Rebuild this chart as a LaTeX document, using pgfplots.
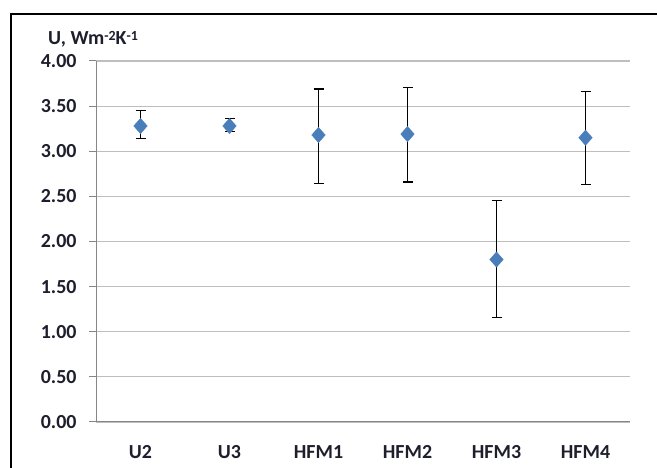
\documentclass[border=0pt]{standalone}
\usepackage{pgfplots}
\pgfplotsset{compat=1.18}
\usepackage{fontspec}
\setmainfont{Carlito}
\definecolor{mk}{RGB}{74,126,187}
\definecolor{gridc}{RGB}{190,190,190}
\definecolor{axc}{RGB}{134,134,134}
\definecolor{txt}{RGB}{30,30,45}
\begin{document}
\begin{tikzpicture}[x=1bp,y=1bp]
\path[use as bounding box] (-96,-46) rectangle (561,422);
\begin{axis}[
  at={(0,0)}, anchor=south west,
  scale only axis, width=534bp, height=361bp,
  xmin=-0.5, xmax=5.5, ymin=0, ymax=4,
  ytick={0,0.5,...,4},
  yticklabel style={/pgf/number format/fixed,/pgf/number format/fixed zerofill,/pgf/number format/precision=2, font=\bfseries\fontsize{20}{22}\selectfont, text=txt, xshift=-9bp},
  /pgf/number format/assume math mode=true,
  xtick={0,...,5},
  xticklabels={U2,U3,HFM1,HFM2,HFM3,HFM4},
  xticklabel style={font=\bfseries\fontsize{20}{22}\selectfont, text=txt, yshift=-13bp},
  extra x ticks={-0.5,0.5,1.5,2.5,3.5,4.5,5.5},
  extra x tick labels={},
  extra x tick style={major tick length=7bp, tick style={axc, line width=1bp}, xtick pos=bottom, tick align=outside, grid=none},
  major x tick style={draw=none},
  ytick style={axc, line width=1bp},
  tick align=outside, major tick length=7bp,
  ytick pos=left, xtick pos=bottom,
  ymajorgrids, grid style={gridc, line width=1.2bp},
  axis x line*=bottom, axis y line*=left,
  axis line style={axc, line width=1bp, -},
  clip=false,
]
\addplot[only marks, mark=diamond*, mark size=9bp, mark options={fill=mk, draw=mk, yscale=0.85},
  error bars/.cd, y dir=both, y explicit, error bar style={black, line width=1.2bp},
  error mark options={rotate=90, mark size=5bp, black, line width=1.2bp}]
  table[x=x, y=y, y error plus=ep, y error minus=em] {
x y ep em
0 3.28 0.17 0.14
1 3.28 0.08 0.06
2 3.18 0.51 0.54
3 3.19 0.52 0.53
4 1.80 0.65 0.64
5 3.15 0.51 0.52
};
\end{axis}
\node[anchor=base west, font=\bfseries\fontsize{20}{22}\selectfont, text=txt, inner sep=0pt] at (-48,377) {U, Wm\raisebox{0.45ex}{\fontsize{14}{16}\selectfont -2}K\raisebox{0.45ex}{\fontsize{14}{16}\selectfont -1}};
\draw[black, line width=1.3bp] (-85,-60) -- (-85,408) -- (600,408);
\end{tikzpicture}
\end{document}
